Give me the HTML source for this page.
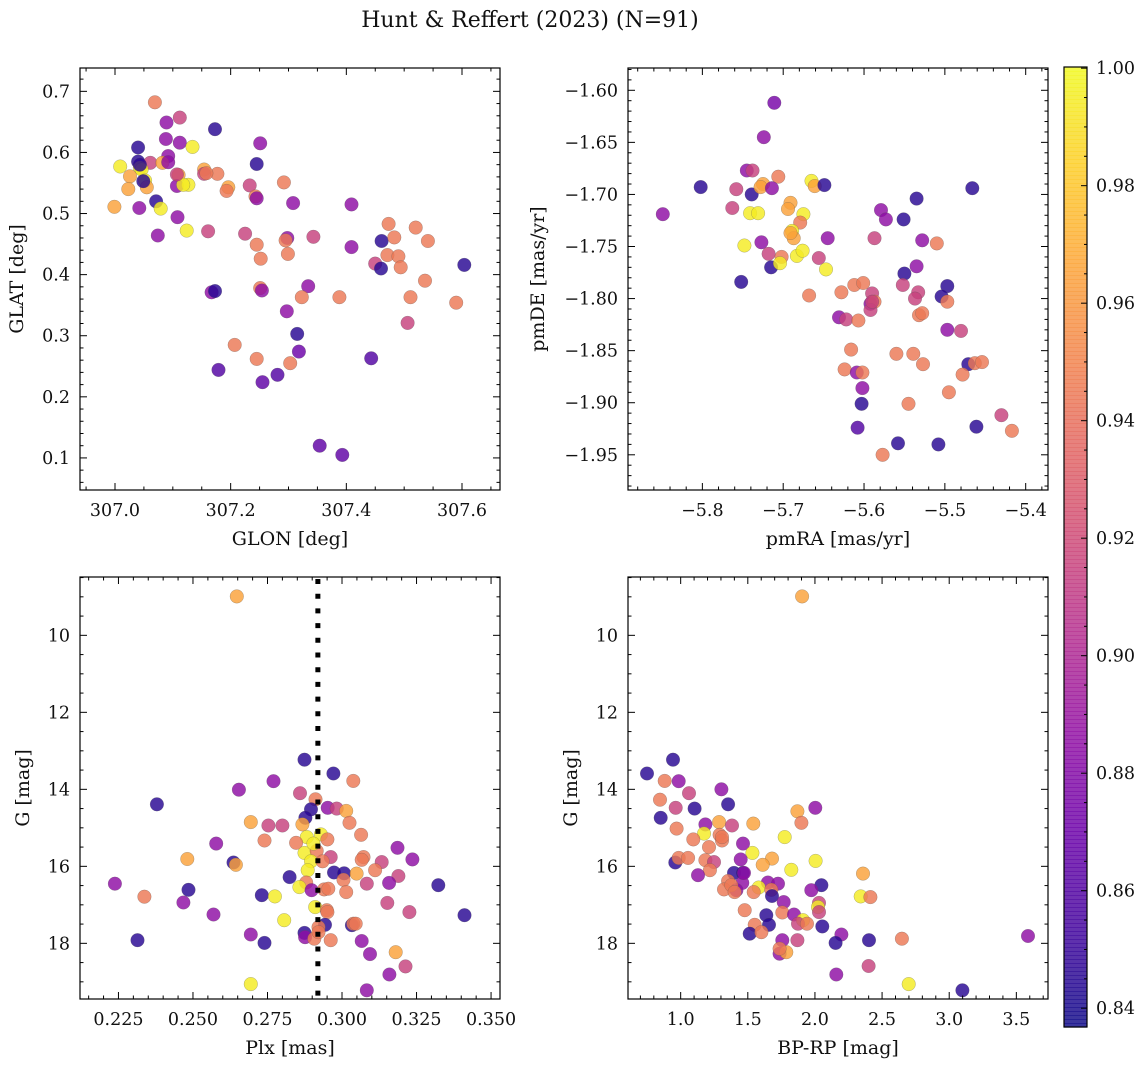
<!DOCTYPE html>
<html><head><meta charset="utf-8"><style>
html,body{margin:0;padding:0;background:#fff;}
svg text{font-family:"DejaVu Serif","Liberation Serif",serif;fill:#111;}
</style></head><body>
<svg id="fig" width="1148" height="1067" viewBox="0 0 1148 1067" xmlns="http://www.w3.org/2000/svg">
<text x="530" y="27" font-size="22" text-anchor="middle">Hunt &amp; Reffert (2023) (N=91)</text>
</svg>
<script>
// ---- Data (each panel) ----
const glon=[307.069,307.089,307.112,307.173,307.088,307.112,307.134,307.251,307.040,307.245,307.040,307.061,307.092,307.082,307.009,307.043,307.046,307.026,307.110,307.107,307.052,307.127,307.118,307.023,307.055,307.154,307.154,307.177,307.196,307.193,307.233,307.243,307.292,307.308,307.409,306.999,307.042,307.071,307.079,307.108,307.124,307.074,307.161,307.225,307.245,307.298,307.295,307.299,307.343,307.252,307.409,307.473,307.520,307.461,307.483,307.541,307.471,307.490,307.450,307.460,307.494,307.604,307.536,307.167,307.173,307.251,307.254,307.334,307.323,307.388,307.511,307.590,307.297,307.506,307.315,307.207,307.318,307.245,307.303,307.443,307.179,307.281,307.255,307.354,307.393,307.043,307.049,307.107,307.092,307.245,307.158];
const glat=[0.682,0.649,0.657,0.638,0.622,0.616,0.609,0.615,0.608,0.581,0.585,0.583,0.594,0.583,0.577,0.575,0.572,0.561,0.563,0.545,0.554,0.547,0.547,0.540,0.543,0.572,0.565,0.565,0.543,0.537,0.546,0.528,0.551,0.517,0.515,0.511,0.509,0.520,0.508,0.494,0.472,0.464,0.471,0.467,0.449,0.460,0.456,0.434,0.462,0.426,0.445,0.483,0.477,0.455,0.461,0.455,0.432,0.430,0.418,0.410,0.412,0.416,0.390,0.371,0.373,0.378,0.374,0.381,0.363,0.363,0.363,0.354,0.340,0.321,0.303,0.285,0.274,0.262,0.255,0.263,0.244,0.236,0.224,0.120,0.105,0.580,0.553,0.564,0.584,0.525,0.566];
const probTL=[.945,.885,.915,.845,.885,.885,.995,.885,.845,.845,.845,.915,.885,.965,.995,.995,.995,.965,.965,.885,.995,.995,.995,.965,.965,.965,.915,.945,.965,.945,.915,.945,.945,.885,.885,.965,.885,.845,.995,.885,.995,.885,.915,.915,.945,.885,.945,.945,.915,.945,.885,.945,.945,.845,.945,.945,.945,.945,.915,.845,.945,.845,.945,.885,.845,.945,.885,.885,.945,.945,.945,.945,.885,.915,.845,.945,.87,.945,.945,.86,.86,.86,.865,.865,.865,.845,.845,.915,.885,.885,.945];

const pmra=[-5.711,-5.724,-5.745,-5.738,-5.706,-5.802,-5.758,-5.739,-5.725,-5.728,-5.714,-5.665,-5.661,-5.649,-5.535,-5.466,-5.849,-5.763,-5.741,-5.731,-5.691,-5.694,-5.675,-5.679,-5.689,-5.687,-5.579,-5.573,-5.551,-5.748,-5.727,-5.645,-5.587,-5.528,-5.510,-5.718,-5.702,-5.683,-5.676,-5.656,-5.715,-5.704,-5.647,-5.752,-5.535,-5.550,-5.612,-5.601,-5.552,-5.497,-5.668,-5.628,-5.590,-5.533,-5.537,-5.504,-5.497,-5.592,-5.587,-5.592,-5.631,-5.622,-5.607,-5.532,-5.528,-5.497,-5.480,-5.616,-5.560,-5.539,-5.527,-5.624,-5.609,-5.602,-5.471,-5.463,-5.454,-5.478,-5.602,-5.603,-5.495,-5.545,-5.608,-5.461,-5.430,-5.417,-5.558,-5.508,-5.577,-5.691,-5.590];
const pmde=[-1.612,-1.645,-1.677,-1.677,-1.683,-1.693,-1.695,-1.700,-1.690,-1.693,-1.694,-1.687,-1.692,-1.691,-1.704,-1.694,-1.719,-1.713,-1.718,-1.718,-1.708,-1.714,-1.719,-1.727,-1.735,-1.742,-1.715,-1.724,-1.724,-1.749,-1.746,-1.742,-1.742,-1.744,-1.747,-1.757,-1.760,-1.759,-1.754,-1.761,-1.770,-1.766,-1.772,-1.784,-1.769,-1.776,-1.787,-1.785,-1.787,-1.788,-1.797,-1.794,-1.795,-1.794,-1.800,-1.798,-1.803,-1.805,-1.803,-1.811,-1.818,-1.820,-1.821,-1.816,-1.814,-1.830,-1.831,-1.849,-1.853,-1.853,-1.863,-1.868,-1.871,-1.871,-1.863,-1.862,-1.861,-1.873,-1.886,-1.901,-1.890,-1.901,-1.924,-1.923,-1.912,-1.927,-1.939,-1.940,-1.950,-1.737,-1.803];
const probTR=[.875,.885,.885,.915,.945,.845,.915,.845,.965,.965,.885,.995,.965,.845,.845,.845,.885,.915,.995,.995,.965,.965,.995,.945,.995,.965,.885,.885,.845,.995,.885,.885,.915,.885,.945,.915,.945,.995,.995,.915,.845,.995,.995,.845,.885,.845,.945,.945,.915,.845,.945,.945,.915,.915,.915,.845,.945,.885,.945,.915,.885,.915,.945,.945,.945,.885,.915,.945,.945,.945,.945,.945,.885,.945,.845,.945,.945,.945,.885,.845,.945,.945,.86,.845,.915,.945,.845,.845,.945,.965,.915];

const plx=[.2647,.2874,.2971,.2770,.3038,.2654,.2859,.2911,.2379,.2896,.2952,.2982,.3014,.2877,.2694,.2753,.2800,.2867,.3025,.2929,.2882,.3064,.2740,.2846,.2951,.2578,.3186,.2874,.2915,.2962,.3072,.3066,.2481,.2636,.2644,.2896,.2935,.3236,.3133,.2885,.2973,.3007,.3049,.3111,.2824,.3189,.3005,.2238,.2880,.2857,.3083,.3158,.3323,.2485,.2898,.2940,.2954,.3014,.2337,.2731,.2775,.2468,.3152,.2910,.2949,.2951,.2569,.3226,.3411,.2806,.2943,.3033,.3038,.3046,.2921,.2694,.2874,.2876,.2907,.2962,.3066,.2314,.2740,.3094,.3180,.3213,.3159,.2694,.3083,.2904,.2921];
const gBL=[8.99,13.23,13.59,13.79,13.78,14.01,14.10,14.26,14.39,14.52,14.48,14.50,14.56,14.74,14.85,14.94,14.94,14.91,14.87,15.17,15.24,15.18,15.33,15.39,15.30,15.41,15.52,15.65,15.60,15.76,15.76,15.83,15.81,15.90,15.96,15.87,15.87,15.82,15.89,16.10,16.16,16.18,16.19,16.10,16.28,16.25,16.35,16.45,16.42,16.54,16.45,16.43,16.49,16.61,16.62,16.60,16.58,16.67,16.79,16.75,16.78,16.94,16.95,17.06,17.14,17.19,17.25,17.19,17.27,17.40,17.52,17.53,17.49,17.49,17.58,17.77,17.73,17.84,17.88,17.92,17.94,17.92,17.99,18.28,18.23,18.60,18.81,19.06,19.22,15.41,17.71];
const probBL=[.965,.845,.845,.885,.945,.885,.915,.945,.845,.845,.885,.915,.965,.845,.965,.915,.915,.965,.945,.995,.995,.945,.945,.945,.945,.885,.885,.995,.945,.915,.945,.945,.965,.845,.965,.995,.945,.885,.915,.995,.845,.845,.965,.945,.845,.915,.945,.885,.945,.995,.915,.885,.845,.845,.885,.945,.945,.945,.945,.845,.995,.885,.915,.995,.945,.945,.885,.915,.845,.995,.845,.845,.945,.945,.945,.885,.845,.885,.945,.945,.885,.845,.845,.885,.965,.915,.885,.995,.885,.995,.945];
const plxRef=[0.2919];

const bprp=[1.904,0.943,0.749,0.881,0.985,1.062,1.303,0.846,0.963,1.104,1.353,2.003,1.869,1.899,0.851,1.184,1.286,1.382,1.541,0.970,1.174,1.290,1.308,1.094,1.775,1.464,1.211,1.534,1.680,1.611,2.005,1.447,0.960,0.985,1.055,1.184,1.248,1.824,2.358,1.218,1.129,1.397,1.464,1.353,1.459,1.650,1.725,2.048,1.973,1.323,1.415,1.581,1.544,1.675,1.680,2.341,2.413,1.767,2.030,2.023,2.030,1.477,1.757,1.844,1.638,1.911,1.874,1.941,2.055,1.551,1.658,1.514,1.601,2.197,2.154,2.403,2.648,3.587,1.757,1.869,1.737,1.787,2.400,2.159,2.698,3.098,1.377,1.472,1.308,1.402,1.737];
const gBR=[8.99,13.23,13.59,13.78,13.79,14.10,14.00,14.27,14.48,14.50,14.39,14.48,14.57,14.87,14.74,14.91,14.85,14.94,14.89,15.02,15.15,15.18,15.33,15.30,15.24,15.41,15.50,15.65,15.80,15.96,15.86,15.82,15.90,15.78,15.78,15.84,15.89,16.09,16.19,16.10,16.23,16.17,16.17,16.38,16.43,16.42,16.45,16.49,16.62,16.60,16.62,16.55,16.67,16.61,16.77,16.78,16.80,16.93,16.95,17.06,17.19,17.14,17.20,17.25,17.27,17.40,17.49,17.49,17.56,17.52,17.52,17.75,17.71,17.77,17.99,17.92,17.88,17.81,17.92,17.92,18.27,18.23,18.59,18.81,19.06,19.22,16.49,16.17,15.24,16.67,18.14];
const probBR=[.965,.845,.845,.945,.885,.915,.885,.945,.915,.845,.845,.885,.965,.945,.845,.885,.965,.915,.965,.945,.995,.945,.945,.945,.995,.885,.945,.995,.965,.965,.995,.885,.845,.945,.945,.945,.915,.995,.965,.945,.885,.845,.845,.945,.885,.885,.885,.845,.885,.945,.885,.995,.945,.945,.845,.995,.945,.885,.915,.995,.915,.945,.945,.885,.845,.995,.915,.945,.845,.945,.845,.845,.945,.885,.845,.845,.945,.885,.885,.915,.885,.965,.915,.885,.995,.845,.945,.885,.945,.945,.945];

const cbTicks=[0.84,0.86,0.88,0.90,0.92,0.94,0.96,0.98,1.00];

// ---- helpers ----
const NS="http://www.w3.org/2000/svg";
const svg=document.getElementById('fig');
function mk(tag,attrs,parent){const e=document.createElementNS(NS,tag);for(const k in attrs)e.setAttribute(k,attrs[k]);(parent||svg).appendChild(e);return e;}
const PL=[[13,8,135],[65,4,157],[106,0,168],[143,13,164],[177,42,144],[204,71,120],[225,100,98],[242,132,75],[252,166,54],[252,206,37],[240,249,33]];
function plasma(t){t=Math.max(0,Math.min(1,t));const f=t*10,i=Math.min(9,Math.floor(f)),r=f-i;const a=PL[i],b=PL[i+1];return 'rgb('+a.map((v,k)=>Math.round(v+(b[k]-v)*r)).join(',')+')';}
const VMIN=0.8368,VMAX=1.0002;
function col(p){return plasma((p-VMIN)/(VMAX-VMIN));}
function fmt(v,d){return (v<0?'\u2212':'')+Math.abs(v).toFixed(d);}

function panel(o){
  const sx=v=>o.x0+(v-o.xd[0])/(o.xd[1]-o.xd[0])*(o.x1-o.x0);
  const sy=v=>o.y0+(v-o.yd[0])/(o.yd[1]-o.yd[0])*(o.y1-o.y0);
  const g=mk('g',{});
  
  
  const pg=mk('g',{},g);
  
  
  for(let i=0;i<o.xs.length;i++){
    const c=mk('circle',{cx:sx(o.xs[i]).toFixed(1),cy:sy(o.ys[i]).toFixed(1),r:6.8,fill:col(o.ps[i]),'fill-opacity':0.82,stroke:'#555','stroke-opacity':0.45,'stroke-width':0.5},pg);
    
    
  }
  if(o.extra)o.extra(g,sx,sy);
  const fr=mk('rect',{x:o.x0,y:o.y0,width:o.x1-o.x0,height:o.y1-o.y0,fill:'none',stroke:'#000','stroke-width':1.2},g);
  
  
  const eps=1e-9;
  const xa=Math.min(o.xd[0],o.xd[1]),xb=Math.max(o.xd[0],o.xd[1]);
  for(let v=Math.ceil(xa/o.xmin-eps)*o.xmin;v<=xb+eps;v+=o.xmin){
    const major=Math.abs(v/o.xmaj-Math.round(v/o.xmaj))<1e-6;const L=major?7:3.5;const x=sx(v);
    mk('line',{x1:x,x2:x,y1:o.y1,y2:o.y1-L,stroke:'#000','stroke-width':1},g);
    mk('line',{x1:x,x2:x,y1:o.y0,y2:o.y0+L,stroke:'#000','stroke-width':1},g);
    if(major){const t=mk('text',{x:x,y:o.y1+26,'font-size':17.5,'text-anchor':'middle'},g);t.textContent=fmt(v,o.xdec);
      }
  }
  const ya=Math.min(o.yd[0],o.yd[1]),yb=Math.max(o.yd[0],o.yd[1]);
  for(let v=Math.ceil(ya/o.ymin-eps)*o.ymin;v<=yb+eps;v+=o.ymin){
    const major=Math.abs(v/o.ymaj-Math.round(v/o.ymaj))<1e-6;const L=major?7:3.5;const y=sy(v);
    mk('line',{x1:o.x0,x2:o.x0+L,y1:y,y2:y,stroke:'#000','stroke-width':1},g);
    mk('line',{x1:o.x1,x2:o.x1-L,y1:y,y2:y,stroke:'#000','stroke-width':1},g);
    if(major){const t=mk('text',{x:o.x0-10,y:y+6,'font-size':17.5,'text-anchor':'end'},g);t.textContent=fmt(v,o.ydec);
      }
  }
  const xt=mk('text',{x:(o.x0+o.x1)/2,y:o.y1+55,'font-size':19,'text-anchor':'middle'},g);xt.textContent=o.xlabel;
  
  const cy=(o.y0+o.y1)/2;
  const yt=mk('text',{x:o.ylx,y:cy,'font-size':19,'text-anchor':'middle',transform:'rotate(-90 '+o.ylx+' '+cy+')'},g);yt.textContent=o.ylabel;
  
}

panel({name:'glon-glat-panel',x0:80,x1:500,y0:68,y1:490,xd:[306.9395,307.6657],yd:[0.7382,0.0475],xs:glon,ys:glat,ps:probTL,
  xmaj:0.2,xmin:0.05,xdec:1,ymaj:0.1,ymin:0.02,ydec:1,xlabel:'GLON [deg]',ylabel:'GLAT [deg]',ylx:23});
panel({name:'pmra-pmde-panel',x0:628,x1:1048,y0:68,y1:490,xd:[-5.892,-5.3724],yd:[-1.5786,-1.9838],xs:pmra,ys:pmde,ps:probTR,
  xmaj:0.1,xmin:0.02,xdec:1,ymaj:0.05,ymin:0.01,ydec:2,xlabel:'pmRA [mas/yr]',ylabel:'pmDE [mas/yr]',ylx:544});
panel({name:'plx-g-panel',x0:80,x1:500,y0:577,y1:999,xd:[0.2121,0.3530],yd:[8.485,19.446],xs:plx,ys:gBL,ps:probBL,
  xmaj:0.025,xmin:0.005,xdec:3,ymaj:2,ymin:0.5,ydec:0,xlabel:'Plx [mas]',ylabel:'G [mag]',ylx:29,
  extra:(g,sx,sy)=>{const x=sx(plxRef[0]);const l=mk('line',{x1:x,x2:x,y1:579,y2:999,stroke:'#000','stroke-width':5,'stroke-dasharray':'5,9.7'},g);
    }});
panel({name:'bprp-g-panel',x0:628,x1:1048,y0:577,y1:999,xd:[0.6077,3.7358],yd:[8.485,19.446],xs:bprp,ys:gBR,ps:probBR,
  xmaj:0.5,xmin:0.1,xdec:1,ymaj:2,ymin:0.5,ydec:0,xlabel:'BP-RP [mag]',ylabel:'G [mag]',ylx:577});

// ---- colorbar ----
const cb=mk('g',{});


const cbx=1064,cbw=23,cby0=67,cby1=1027;
const cbs=v=>cby1-(v-VMIN)/(VMAX-VMIN)*(cby1-cby0);
for(let i=0;i<240;i++){const y=cby0+i*(cby1-cby0)/240;const t=1-(i+0.5)/240;
  mk('rect',{x:cbx,y:y.toFixed(2),width:cbw,height:((cby1-cby0)/240+0.6).toFixed(2),fill:plasma(t),'fill-opacity':0.82},cb);}
mk('rect',{x:cbx,y:cby0,width:cbw,height:cby1-cby0,fill:'none',stroke:'#000','stroke-width':1.2},cb);
for(let v=0.84;v<=1.0001;v+=0.005){const major=Math.abs(v*50-Math.round(v*50))<1e-6;const y=cbs(v);
  mk('line',{x1:cbx+cbw,x2:cbx+cbw-(major?6:3),y1:y,y2:y,stroke:'#000','stroke-width':1},cb);}
cbTicks.forEach(v=>{const t=mk('text',{x:cbx+cbw+9,y:cbs(v)+6,'font-size':17.5},cb);t.textContent=v.toFixed(2);
  });
</script>
</body></html>
